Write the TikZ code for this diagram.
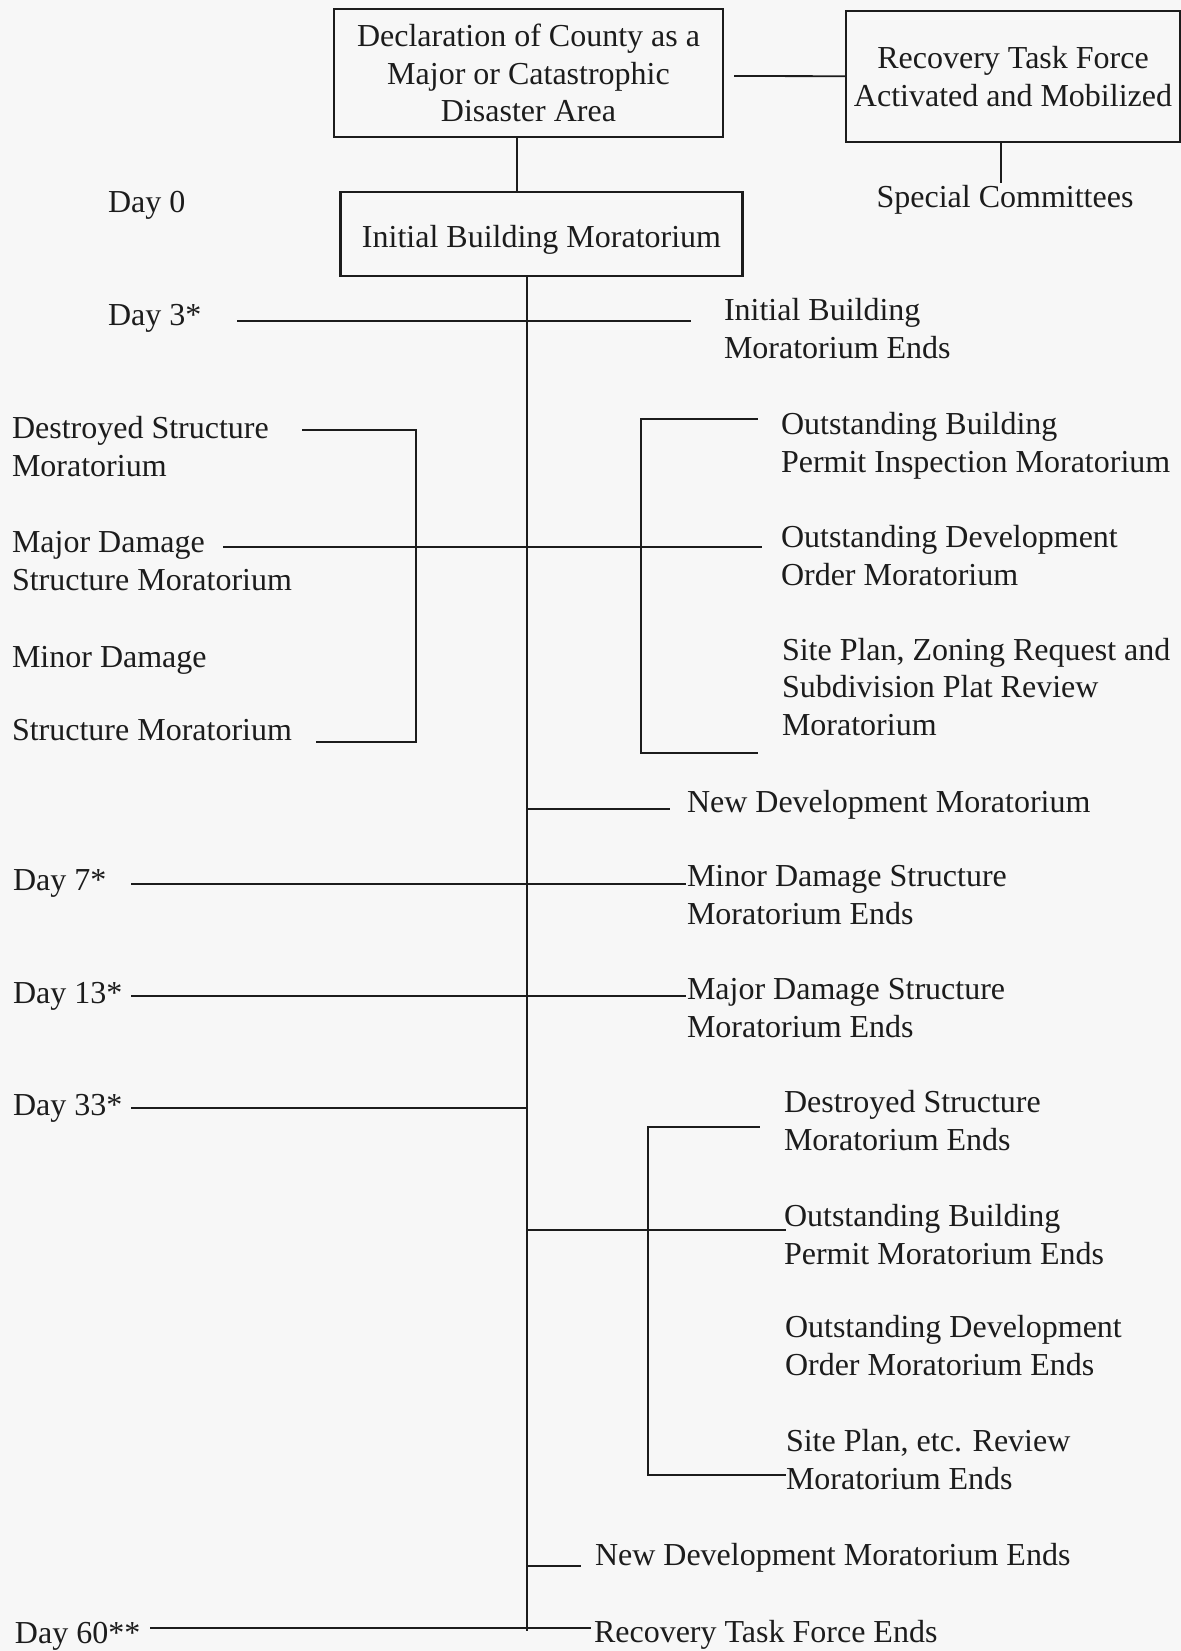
\documentclass[tikz,border=0pt]{standalone}
\usepackage{fontspec}
\setmainfont{Liberation Serif}
\usepackage{tikz,tkz-graph}
\definecolor{paper}{RGB}{247,247,247}
\definecolor{ink}{RGB}{28,28,28}
\tikzstyle{boxed}=[shape = rectangle, draw = ink, line width = 1.1pt, inner sep = 0pt, align = center, text depth = 0pt, text = ink, font = \fontsize{16}{18.75}\selectfont]
\tikzstyle{textLeft}=[anchor = base west, inner sep = 0pt, align = left, text = ink, font = \fontsize{16}{18.75}\selectfont]
\tikzstyle{textMid}=[anchor = base, inner sep = 0pt, align = center, text = ink, font = \fontsize{16}{18.75}\selectfont]
\tikzstyle{dot}=[shape = coordinate]

\begin{document}
\begin{tikzpicture}[x = 0.5pt, y = -0.5pt]
\tikzstyle{VertexStyle} = []
\tikzstyle{EdgeStyle} = [draw = ink, line width = 0.9pt, line cap = rect]
\useasboundingbox (0,0) rectangle (1181,1651);
\fill[paper] (0,0) rectangle (1181,1651);
\Vertex[style = {boxed, minimum width = 194.5pt, minimum height = 64pt}, x = 528.5, y = 73, L = {Declaration of County as a\\Major or Catastrophic\\Disaster Area}]{v0}
\Vertex[style = {boxed, minimum width = 167pt, minimum height = 65.5pt}, x = 1013, y = 76.5, L = {Recovery Task Force\\Activated and Mobilized}]{v1}
\Vertex[style = {boxed, text height = 13pt, minimum width = 201pt, minimum height = 42pt}, x = 541.5, y = 234, L = {Initial Building Moratorium}]{v2}
\Vertex[style = textMid, x = 1005, y = 207, L = {Special Committees}]{v3}
\Vertex[style = textLeft, x = 108, y = 212, L = {Day 0}]{v4}
\Vertex[style = textLeft, x = 108, y = 325, L = {Day 3*}]{v5}
\Vertex[style = textLeft, x = 724, y = 358, L = {Initial Building\\Moratorium Ends}]{v6}
\Vertex[style = textLeft, x = 12, y = 476, L = {Destroyed Structure\\Moratorium}]{v7}
\Vertex[style = textLeft, x = 12, y = 590, L = {Major Damage\\Structure Moratorium}]{v8}
\Vertex[style = textLeft, x = 12, y = 667, L = {Minor Damage}]{v9}
\Vertex[style = textLeft, x = 12, y = 740, L = {Structure Moratorium}]{v10}
\Vertex[style = textLeft, x = 781, y = 472, L = {Outstanding Building\\Permit Inspection Moratorium}]{v11}
\Vertex[style = textLeft, x = 781, y = 585, L = {Outstanding Development\\Order Moratorium}]{v12}
\Vertex[style = textLeft, x = 782, y = 735, L = {Site Plan, Zoning Request and\\Subdivision Plat Review\\Moratorium}]{v13}
\Vertex[style = textLeft, x = 687, y = 812, L = {New Development Moratorium}]{v14}
\Vertex[style = textLeft, x = 13, y = 890, L = {Day 7*}]{v15}
\Vertex[style = textLeft, x = 687, y = 924, L = {Minor Damage Structure\\Moratorium Ends}]{v16}
\Vertex[style = textLeft, x = 13, y = 1003, L = {Day 13*}]{v17}
\Vertex[style = textLeft, x = 687, y = 1037, L = {Major Damage Structure\\Moratorium Ends}]{v18}
\Vertex[style = textLeft, x = 13, y = 1115, L = {Day 33*}]{v19}
\Vertex[style = textLeft, x = 784, y = 1150, L = {Destroyed Structure\\Moratorium Ends}]{v20}
\Vertex[style = textLeft, x = 784, y = 1264, L = {Outstanding Building\\Permit Moratorium Ends}]{v21}
\Vertex[style = textLeft, x = 785, y = 1375, L = {Outstanding Development\\Order Moratorium Ends}]{v22}
\Vertex[style = textLeft, x = 786, y = 1489, L = {Site Plan, etc. Review\\Moratorium Ends}]{v23}
\Vertex[style = textLeft, x = 595, y = 1565, L = {New Development Moratorium Ends}]{v24}
\Vertex[style = textLeft, x = 15, y = 1643, L = {Day 60**}]{v25}
\Vertex[style = textLeft, x = 594, y = 1642, L = {Recovery Task Force Ends}]{v26}
\Vertex[style = dot, NoLabel, x = 735, y = 76]{p0}
\Vertex[style = dot, NoLabel, x = 517, y = 137]{p1}
\Vertex[style = dot, NoLabel, x = 517, y = 192]{p2}
\Vertex[style = dot, NoLabel, x = 1001, y = 142]{p3}
\Vertex[style = dot, NoLabel, x = 1001, y = 182]{p4}
\Vertex[style = dot, NoLabel, x = 527, y = 276]{p5}
\Vertex[style = dot, NoLabel, x = 527, y = 1630]{p6}
\Vertex[style = dot, NoLabel, x = 238, y = 321]{p7}
\Vertex[style = dot, NoLabel, x = 690, y = 321]{p8}
\Vertex[style = dot, NoLabel, x = 303, y = 430]{p9}
\Vertex[style = dot, NoLabel, x = 416, y = 430]{p10}
\Vertex[style = dot, NoLabel, x = 416, y = 742]{p11}
\Vertex[style = dot, NoLabel, x = 317, y = 742]{p12}
\Vertex[style = dot, NoLabel, x = 224, y = 547]{p13}
\Vertex[style = dot, NoLabel, x = 761, y = 547]{p14}
\Vertex[style = dot, NoLabel, x = 757, y = 419]{p15}
\Vertex[style = dot, NoLabel, x = 641, y = 419]{p16}
\Vertex[style = dot, NoLabel, x = 641, y = 753]{p17}
\Vertex[style = dot, NoLabel, x = 757, y = 753]{p18}
\Vertex[style = dot, NoLabel, x = 527, y = 809]{p19}
\Vertex[style = dot, NoLabel, x = 669, y = 809]{p20}
\Vertex[style = dot, NoLabel, x = 132, y = 884]{p21}
\Vertex[style = dot, NoLabel, x = 685, y = 884]{p22}
\Vertex[style = dot, NoLabel, x = 132, y = 996]{p23}
\Vertex[style = dot, NoLabel, x = 685, y = 996]{p24}
\Vertex[style = dot, NoLabel, x = 132, y = 1108]{p25}
\Vertex[style = dot, NoLabel, x = 525, y = 1108]{p26}
\Vertex[style = dot, NoLabel, x = 759, y = 1127]{p27}
\Vertex[style = dot, NoLabel, x = 648, y = 1127]{p28}
\Vertex[style = dot, NoLabel, x = 648, y = 1475]{p29}
\Vertex[style = dot, NoLabel, x = 785, y = 1475]{p30}
\Vertex[style = dot, NoLabel, x = 527, y = 1230]{p31}
\Vertex[style = dot, NoLabel, x = 785, y = 1230]{p32}
\Vertex[style = dot, NoLabel, x = 527, y = 1566]{p33}
\Vertex[style = dot, NoLabel, x = 580, y = 1566]{p34}
\Vertex[style = dot, NoLabel, x = 151, y = 1628]{p35}
\Vertex[style = dot, NoLabel, x = 590, y = 1628]{p36}
\Edge(p0)(v1)
\Edge(p1)(p2)
\Edge(p3)(p4)
\Edge(p5)(p6)
\Edge(p7)(p8)
\Edge(p9)(p10)
\Edge(p10)(p11)
\Edge(p11)(p12)
\Edge(p13)(p14)
\Edge(p15)(p16)
\Edge(p16)(p17)
\Edge(p17)(p18)
\Edge(p19)(p20)
\Edge(p21)(p22)
\Edge(p23)(p24)
\Edge(p25)(p26)
\Edge(p27)(p28)
\Edge(p28)(p29)
\Edge(p29)(p30)
\Edge(p31)(p32)
\Edge(p33)(p34)
\Edge(p35)(p36)
\end{tikzpicture}
\end{document}
